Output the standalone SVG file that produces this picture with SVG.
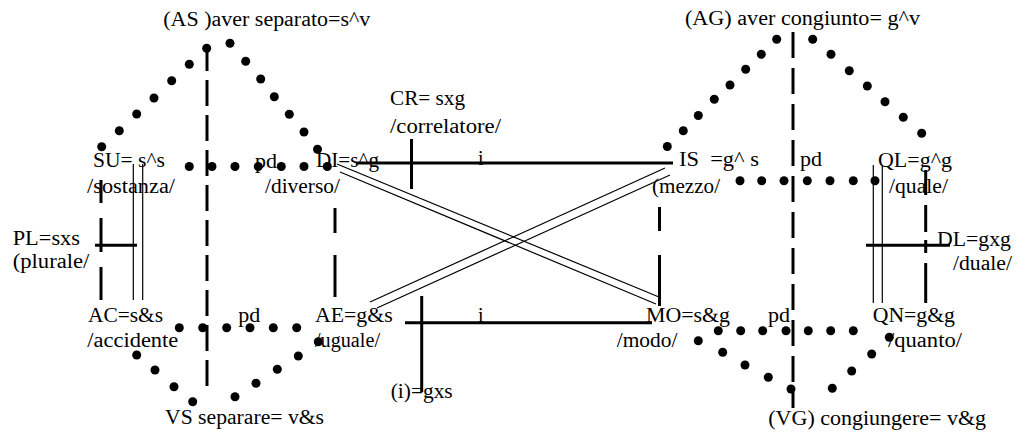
<svg xmlns="http://www.w3.org/2000/svg" width="1017" height="434" viewBox="0 0 1017 434">
<style>
text{font-family:"Liberation Serif","Times New Roman",serif;font-size:20px;fill:#000;white-space:pre}
.dot{fill:#000}
.dash{stroke:#000;stroke-width:3;fill:none}
.thick{stroke:#000;stroke-width:3;fill:none}
.thin{stroke:#000;stroke-width:1.2;fill:none}
</style>
<rect width="1017" height="434" fill="#fff"/>
<g id="connectors">
  <g id="dots-AS">
    <circle class="dot" cx="101.7" cy="146.7" r="4.5"/>
    <circle class="dot" cx="119.3" cy="130.7" r="4.5"/>
    <circle class="dot" cx="136.7" cy="114" r="4.5"/>
    <circle class="dot" cx="154" cy="98" r="4.5"/>
    <circle class="dot" cx="171.7" cy="80.7" r="4.5"/>
    <circle class="dot" cx="189.3" cy="64.3" r="4.5"/>
    <circle class="dot" cx="206.7" cy="48.3" r="4.5"/>
    <circle class="dot" cx="230" cy="43.3" r="4.5"/>
    <circle class="dot" cx="245.7" cy="61.3" r="4.5"/>
    <circle class="dot" cx="260.7" cy="79" r="4.5"/>
    <circle class="dot" cx="274.3" cy="96.7" r="4.5"/>
    <circle class="dot" cx="289.3" cy="114.3" r="4.5"/>
    <circle class="dot" cx="304" cy="132" r="4.5"/>
    <circle class="dot" cx="317.5" cy="149.3" r="4.5"/>
  </g>
  <g id="dots-SU-DI">
    <circle class="dot" cx="189.3" cy="166.5" r="4.5"/>
    <circle class="dot" cx="212" cy="166.5" r="4.5"/>
    <circle class="dot" cx="235" cy="166.5" r="4.5"/>
    <circle class="dot" cx="258.3" cy="166.5" r="4.5"/>
    <circle class="dot" cx="281.3" cy="166.5" r="4.5"/>
    <circle class="dot" cx="304" cy="166.5" r="4.5"/>
    <circle class="dot" cx="327.3" cy="166.5" r="4.5"/>
  </g>
  <g id="dots-AC-AE">
    <circle class="dot" cx="179.3" cy="327.7" r="4.5"/>
    <circle class="dot" cx="202.7" cy="327.7" r="4.5"/>
    <circle class="dot" cx="226.7" cy="327.7" r="4.5"/>
    <circle class="dot" cx="250" cy="327.7" r="4.5"/>
    <circle class="dot" cx="273.3" cy="327.7" r="4.5"/>
    <circle class="dot" cx="296.7" cy="327.7" r="4.5"/>
  </g>
  <g id="dots-VS">
    <circle class="dot" cx="136.7" cy="355" r="4.5"/>
    <circle class="dot" cx="155" cy="370" r="4.5"/>
    <circle class="dot" cx="174" cy="386.7" r="4.5"/>
    <circle class="dot" cx="192.7" cy="401.7" r="4.5"/>
    <circle class="dot" cx="235" cy="396.7" r="4.5"/>
    <circle class="dot" cx="256" cy="383.3" r="4.5"/>
    <circle class="dot" cx="277.3" cy="369.3" r="4.5"/>
    <circle class="dot" cx="298.3" cy="356" r="4.5"/>
    <circle class="dot" cx="318.3" cy="341.7" r="4.5"/>
  </g>
  <g id="dots-AG">
    <circle class="dot" cx="667.3" cy="146.5" r="4.5"/>
    <circle class="dot" cx="683.3" cy="130.7" r="4.5"/>
    <circle class="dot" cx="698.3" cy="115.5" r="4.5"/>
    <circle class="dot" cx="714.3" cy="99.3" r="4.5"/>
    <circle class="dot" cx="730" cy="85" r="4.5"/>
    <circle class="dot" cx="745.7" cy="69.3" r="4.5"/>
    <circle class="dot" cx="761.3" cy="54.3" r="4.5"/>
    <circle class="dot" cx="776.7" cy="39.3" r="4.5"/>
    <circle class="dot" cx="812.7" cy="39.3" r="4.5"/>
    <circle class="dot" cx="831" cy="54.3" r="4.5"/>
    <circle class="dot" cx="849.3" cy="70.7" r="4.5"/>
    <circle class="dot" cx="867.3" cy="86" r="4.5"/>
    <circle class="dot" cx="885" cy="101.7" r="4.5"/>
    <circle class="dot" cx="903.3" cy="117.3" r="4.5"/>
    <circle class="dot" cx="921.7" cy="133.3" r="4.5"/>
  </g>
  <g id="dots-IS-QL">
    <circle class="dot" cx="740" cy="180.7" r="4.5"/>
    <circle class="dot" cx="761.7" cy="180.7" r="4.5"/>
    <circle class="dot" cx="784" cy="180.7" r="4.5"/>
    <circle class="dot" cx="807.3" cy="180.7" r="4.5"/>
    <circle class="dot" cx="830" cy="180.7" r="4.5"/>
    <circle class="dot" cx="853.3" cy="180.7" r="4.5"/>
    <circle class="dot" cx="875" cy="180.7" r="4.5"/>
  </g>
  <g id="dots-MO-QN">
    <circle class="dot" cx="718.3" cy="330.7" r="4.5"/>
    <circle class="dot" cx="740.7" cy="330.7" r="4.5"/>
    <circle class="dot" cx="762.7" cy="330.7" r="4.5"/>
    <circle class="dot" cx="786" cy="330.7" r="4.5"/>
    <circle class="dot" cx="808.3" cy="330.7" r="4.5"/>
    <circle class="dot" cx="830.7" cy="330.7" r="4.5"/>
    <circle class="dot" cx="853.3" cy="330.7" r="4.5"/>
  </g>
  <g id="dots-VG">
    <circle class="dot" cx="698.3" cy="340.7" r="4.5"/>
    <circle class="dot" cx="722.7" cy="352.3" r="4.5"/>
    <circle class="dot" cx="745" cy="365" r="4.5"/>
    <circle class="dot" cx="768.3" cy="377.3" r="4.5"/>
    <circle class="dot" cx="791" cy="389" r="4.5"/>
    <circle class="dot" cx="832.3" cy="388.3" r="4.5"/>
    <circle class="dot" cx="851.7" cy="371" r="4.5"/>
    <circle class="dot" cx="871.7" cy="354" r="4.5"/>
    <circle class="dot" cx="889.3" cy="337.3" r="4.5"/>
  </g>
  <line class="dash" x1="207" y1="45" x2="207" y2="389" stroke-dasharray="26 9"/>
  <line class="dash" x1="793" y1="32" x2="793" y2="408" stroke-dasharray="26 10"/>
  <path class="dash" d="M101 180V203M101 218V252M101 267V300"/>
  <path class="dash" d="M335 208V233M335 255V297"/>
  <path class="dash" d="M659.5 207V231M659.5 255V306"/>
  <path class="dash" d="M925.7 170V195M925.7 205V232M925.7 240V253M925.7 263V303"/>
  <line class="thick" x1="356" y1="163" x2="673" y2="163"/>
  <line class="thick" x1="411.5" y1="139" x2="411.5" y2="189"/>
  <line class="thick" x1="405" y1="322.7" x2="652" y2="322.7"/>
  <line class="thick" x1="421.7" y1="296" x2="421.7" y2="392"/>
  <line class="thick" x1="95" y1="245.3" x2="137" y2="245.3"/>
  <line class="thick" x1="866" y1="245.3" x2="950" y2="245.3"/>
  <line class="thin" x1="133.3" y1="164" x2="133.3" y2="300"/>
  <line class="thin" x1="142.7" y1="164" x2="142.7" y2="300"/>
  <line class="thin" x1="873.3" y1="165" x2="873.3" y2="303"/>
  <line class="thin" x1="882.3" y1="165" x2="882.3" y2="303"/>
  <line class="thin" x1="337" y1="164" x2="659" y2="297"/>
  <line class="thin" x1="340" y1="172" x2="656" y2="304"/>
  <line class="thin" x1="665" y1="168" x2="370" y2="302"/>
  <line class="thin" x1="670" y1="175" x2="377" y2="308"/>
</g>
<g id="AS"><text x="163.3" y="26" textLength="207" lengthAdjust="spacingAndGlyphs">(AS )aver separato=s^v</text></g>
<g id="AG"><text x="685" y="25" textLength="235" lengthAdjust="spacingAndGlyphs">(AG) aver congiunto= g^v</text></g>
<g id="CR"><text x="390" y="105" textLength="75" lengthAdjust="spacingAndGlyphs">CR= sxg</text><text x="390" y="133" textLength="111" lengthAdjust="spacingAndGlyphs">/correlatore/</text></g>
<g id="SU"><text x="93" y="166.5" textLength="72" lengthAdjust="spacingAndGlyphs">SU= s^s</text><text x="87" y="193" textLength="88" lengthAdjust="spacingAndGlyphs">/sostanza/</text></g>
<g id="pd-top-left"><text x="255" y="168" textLength="22" lengthAdjust="spacingAndGlyphs">pd</text></g>
<g id="DI"><text x="316" y="167" textLength="63" lengthAdjust="spacingAndGlyphs">DI=s^g</text><text x="265" y="193" textLength="75" lengthAdjust="spacingAndGlyphs">/diverso/</text></g>
<g id="i-top"><text x="478" y="165">i</text></g>
<g id="IS"><text x="679" y="166" textLength="80" lengthAdjust="spacingAndGlyphs">IS  =g^ s</text><text x="652" y="193" textLength="68" lengthAdjust="spacingAndGlyphs">(mezzo/</text></g>
<g id="pd-top-right"><text x="800" y="166" textLength="22" lengthAdjust="spacingAndGlyphs">pd</text></g>
<g id="QL"><text x="878" y="166.5" textLength="74" lengthAdjust="spacingAndGlyphs">QL=g^g</text><text x="889" y="193" textLength="59" lengthAdjust="spacingAndGlyphs">/quale/</text></g>
<g id="PL"><text x="12.7" y="245" textLength="67.3" lengthAdjust="spacingAndGlyphs">PL=sxs</text><text x="12.7" y="268" textLength="76.7" lengthAdjust="spacingAndGlyphs">(plurale/</text></g>
<g id="DL"><text x="937" y="246" textLength="74" lengthAdjust="spacingAndGlyphs">DL=gxg</text><text x="953" y="270" textLength="59" lengthAdjust="spacingAndGlyphs">/duale/</text></g>
<g id="AC"><text x="88" y="321.7" textLength="75" lengthAdjust="spacingAndGlyphs">AC=s&amp;s</text><text x="87.3" y="346.7" textLength="91" lengthAdjust="spacingAndGlyphs">/accidente</text></g>
<g id="pd-bottom-left"><text x="238.3" y="321.7" textLength="22" lengthAdjust="spacingAndGlyphs">pd</text></g>
<g id="AE"><text x="315" y="321.7" textLength="77.7" lengthAdjust="spacingAndGlyphs">AE=g&amp;s</text><text x="315" y="347" textLength="65" lengthAdjust="spacingAndGlyphs">/uguale/</text></g>
<g id="i-bottom"><text x="478" y="321.7">i</text></g>
<g id="MO"><text x="646" y="322" textLength="84" lengthAdjust="spacingAndGlyphs">MO=s&amp;g</text><text x="616.7" y="346.7" textLength="60.7" lengthAdjust="spacingAndGlyphs">/modo/</text></g>
<g id="pd-bottom-right"><text x="768" y="322" textLength="22" lengthAdjust="spacingAndGlyphs">pd</text></g>
<g id="QN"><text x="872.7" y="322" textLength="82.3" lengthAdjust="spacingAndGlyphs">QN=g&amp;g</text><text x="888" y="346.7" textLength="74" lengthAdjust="spacingAndGlyphs">/quanto/</text></g>
<g id="I-gxs"><text x="390.7" y="398.3" textLength="62" lengthAdjust="spacingAndGlyphs">(i)=gxs</text></g>
<g id="VS"><text x="165" y="424" textLength="159" lengthAdjust="spacingAndGlyphs">VS separare= v&amp;s</text></g>
<g id="VG"><text x="768.3" y="425" textLength="217.7" lengthAdjust="spacingAndGlyphs">(VG) congiungere= v&amp;g</text></g>
</svg>
